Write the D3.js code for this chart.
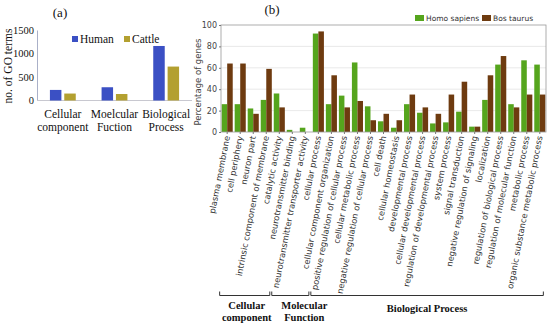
<!DOCTYPE html>
<html><head><meta charset="utf-8">
<script src="https://cdn.jsdelivr.net/npm/d3@7"></script>
<style>body{margin:0;background:#fff}svg{display:block}</style>
</head><body><svg id="c" width="550" height="328"></svg>
<script>
// ---- Panel (a) data ----
const aCategories = [["Cellular","component"],["Moelcular","Fuction"],["Biological","Process"]];
const aSeries = ["Human","Cattle"];
const aHuman = [225, 282, 1160];
const aCattle = [148, 138, 722];
const aTicks = [0, 500, 1000, 1500];

// ---- Panel (b) data ----
const bCategories = [
 "plasma membrane","cell periphery","neuron part","intrinsic component of membrane",
 "catalytic activity","neurotransmitter binding","neurotransmitter transporter activity",
 "cellular process","cellular component organization","positive regulation of cellular process",
 "cellular metabolic process","negative regulation of cellular process","cell death",
 "cellular homeostasis","developmental process","cellular developmental process",
 "regulation of developmental process","system process","signal transduction",
 "negative regulation of signaling","localization","regulation of biological process",
 "regulation of molecular function","metabolic process","organic substance metabolic process"];
const bSeries = ["Homo sapiens","Bos taurus"];
const bHomo = [26,26,22,30,36,2,4,92,26,34,65,24,10,4,26,18,8,9,19,5,30,63,26,67,63];
const bBos  = [64,64,17,59,23,0,0,94,53,23,29,11,17,11,35,23,17,35,47,5,53,71,23,35,35];
const bTicks = [0,20,40,60,80,100];
const bGroups = ["Cellular\ncomponent","Molecular\nFunction","Biological Process"];
const bGroupSpans = [[0,3],[4,6],[7,24]];

const svg = d3.select("#c");

// ================= Panel (a) =================
(function(){
  const serif = "'Liberation Serif','Times New Roman','DejaVu Serif',serif";
  const x = d3.scaleBand().domain(d3.range(aCategories.length)).range([37,192]);
  const x1 = d3.scaleBand().domain(aSeries).range([x.bandwidth()*0.25, x.bandwidth()*0.75]).paddingInner(0.2);
  const y = d3.scaleLinear().domain([0,1500]).range([100.5,30]);
  const col = {Human:"#3b50c4", Cattle:"#b3a030"};
  const g = svg.append("g");
  const ya = d3.axisLeft(y).tickValues(aTicks).tickFormat(d3.format("d")).tickSize(0).tickPadding(3);
  const yg = g.append("g").attr("transform","translate(37,0)").call(ya);
  yg.attr("font-family",serif).attr("font-size",10.5);
  yg.select(".domain").attr("stroke","#aab0c8");
  yg.selectAll("text").attr("fill","#111");
  g.append("line").attr("x1",37).attr("x2",192).attr("y1",y(0)).attr("y2",y(0)).attr("stroke","#c8c8d0");
  const data = aCategories.map((c,i)=>({i, vals:[aHuman[i],aCattle[i]]}));
  g.selectAll("g.grp").data(data).join("g").attr("transform",d=>`translate(${x(d.i)},0)`)
    .selectAll("rect").data(d=>d.vals.map((v,k)=>({s:aSeries[k],v}))).join("rect")
    .attr("x",d=>x1(d.s)).attr("width",x1.bandwidth())
    .attr("y",d=>y(d.v)).attr("height",d=>y(0)-y(d.v)).attr("fill",d=>col[d.s]);
  aCategories.forEach((c,i)=>{
    c.forEach((t,k)=>g.append("text").attr("x",x(i)+x.bandwidth()/2).attr("y",118+k*12.5)
      .attr("text-anchor","middle").attr("font-family",serif).attr("font-size",11.5).attr("fill","#111").text(t));
  });
  g.append("text").attr("transform","translate(12,66) rotate(-90)").attr("text-anchor","middle")
    .attr("font-family",serif).attr("font-size",11.5).attr("fill","#111").text("no. of GO terms");
  const lx=[72,124];
  aSeries.forEach((s,k)=>{
    g.append("rect").attr("x",lx[k]).attr("y",36).attr("width",6).attr("height",6).attr("fill",col[s]);
    g.append("text").attr("x",lx[k]+8).attr("y",42.5).attr("font-family",serif).attr("font-size",11.5).attr("fill","#111").text(s);
  });
  g.append("text").attr("x",60).attr("y",17).attr("text-anchor","middle").attr("font-family",serif)
    .attr("font-size",13).attr("fill","#111").text("(a)");
})();

// ================= Panel (b) =================
(function(){
  const sans = "'DejaVu Sans',sans-serif";
  const serif = "'Liberation Serif','Times New Roman','DejaVu Serif',serif";
  const L=221, R=546, T=25, B=132;
  const x = d3.scaleBand().domain(bCategories).range([L,R]).paddingInner(0.15).paddingOuter(0.05);
  const x1 = d3.scaleBand().domain(bSeries).range([0,x.bandwidth()]);
  const y = d3.scaleLinear().domain([0,100]).range([B,T]);
  const col = {"Homo sapiens":"#55a51d","Bos taurus":"#6e3b10"};
  const g = svg.append("g");
  g.selectAll("line.grid").data(bTicks.slice(1,-1)).join("line")
    .attr("x1",L).attr("x2",R).attr("y1",d=>y(d)).attr("y2",d=>y(d)).attr("stroke","#e3e3e3").attr("stroke-width",0.8);
  const data = bCategories.map((c,i)=>({c, vals:[bHomo[i],bBos[i]]}));
  g.selectAll("g.grp").data(data).join("g").attr("transform",d=>`translate(${x(d.c)},0)`)
    .selectAll("rect").data(d=>d.vals.map((v,k)=>({s:bSeries[k],v}))).join("rect")
    .attr("x",d=>x1(d.s)).attr("width",x1.bandwidth())
    .attr("y",d=>y(d.v)).attr("height",d=>y(0)-y(d.v)).attr("fill",d=>col[d.s]);
  g.append("rect").attr("x",L).attr("y",T).attr("width",R-L).attr("height",B-T)
    .attr("fill","none").attr("stroke","#9a9a9a").attr("stroke-width",0.8);
  const ya = d3.axisLeft(y).tickValues(bTicks).tickSize(2).tickPadding(2);
  const yg = g.append("g").attr("transform",`translate(${L},0)`).call(ya);
  yg.attr("font-family",sans).attr("font-size",8);
  yg.select(".domain").remove();
  yg.selectAll("line").attr("stroke","#777");
  yg.selectAll("text").attr("fill","#444");
  const xa = d3.axisBottom(x).tickSize(2).tickPadding(2);
  const xg = g.append("g").attr("transform",`translate(0,${B})`).call(xa);
  xg.attr("font-family",sans).attr("font-size",8.4);
  xg.select(".domain").remove();
  xg.selectAll("line").attr("stroke","#777");
  xg.selectAll("text").attr("fill","#333")
    .attr("text-anchor","end").attr("dy","0.35em")
    .attr("transform","translate(0,3) rotate(-79)").attr("y",0).attr("x",-1);
  g.append("text").attr("transform","translate(201,82) rotate(-90)").attr("text-anchor","middle")
    .attr("font-family",sans).attr("font-size",8.5).attr("fill","#444").text("Percentage of genes");
  const lx=[415,482];
  bSeries.forEach((s,k)=>{
    g.append("rect").attr("x",lx[k]).attr("y",15).attr("width",9).attr("height",6).attr("fill",col[s]);
    g.append("text").attr("x",lx[k]+11).attr("y",21).attr("font-family",sans).attr("font-size",7.5).attr("fill","#333").text(s);
  });
  g.append("text").attr("x",272).attr("y",14).attr("text-anchor","middle").attr("font-family",serif)
    .attr("font-size",13).attr("fill","#111").text("(b)");
  const by=295.5;
  const labOff=[2,14,0];
  bGroupSpans.forEach((sp,k)=>{
    const x0 = x(bCategories[sp[0]]) - 2, x1e = x(bCategories[sp[1]]) + x.bandwidth() - 2;
    g.append("path").attr("d",`M${x0},${by-4}V${by}H${x1e}V${by-4}`).attr("fill","none").attr("stroke","#333").attr("stroke-width",1);
    const cx=(x0+x1e)/2+labOff[k];
    const lines=bGroups[k].split("\n");
    lines.forEach((t,j)=>g.append("text").attr("x",cx).attr("y",(lines.length>1?309:312)+j*11.5)
      .attr("text-anchor","middle").attr("font-family",serif).attr("font-weight","bold").attr("font-size",10.5).attr("fill","#111").text(t));
  });
})();
</script></body></html>
